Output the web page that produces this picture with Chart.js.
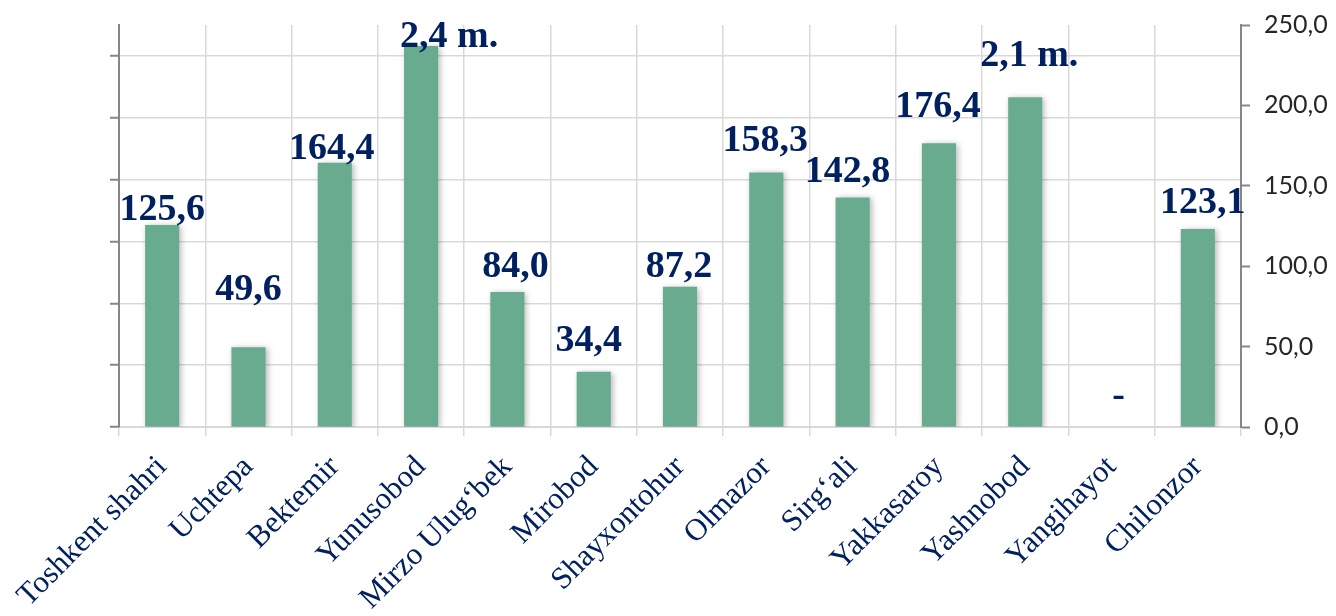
<!DOCTYPE html>
<html>
<head>
<meta charset="utf-8">
<script src="https://cdn.jsdelivr.net/npm/chart.js@4.4.1/dist/chart.umd.min.js"></script>
<style>
  html, body { margin: 0; padding: 0; background: #fff; }
  #wrap { width: 1336px; height: 616px; position: relative; }
</style>
</head>
<body>
<div id="wrap"><canvas id="chart"></canvas></div>
<script>
// districts of Tashkent
const districts = ['Toshkent shahri', 'Uchtepa', 'Bektemir', 'Yunusobod', 'Mirzo Ulug‘bek', 'Mirobod',
    'Shayxontohur', 'Olmazor', 'Sirg‘ali', 'Yakkasaroy', 'Yashnobod', 'Yangihayot', 'Chilonzor'];

// bar heights on the 0-250 axis (the two "m." bars are drawn capped)
const barValues = [125.6, 49.6, 164.4, 237, 84.0, 34.4, 87.2, 158.3, 142.8, 176.4, 205, null, 123.1];

// text shown above each bar
const valueLabels = ['125,6', '49,6', '164,4', '2,4 m.', '84,0', '34,4', '87,2', '158,3', '142,8', '176,4', '2,1 m.', '-', '123,1'];

const rightTicks = [0, 50, 100, 150, 200, 250];

// manual nudges of the value labels [dx, gap above bar top]
const labelNudge = [[0, 5], [0, 47], [-3, 4], [28, -1], [8, 15], [-5, 21], [-1, 10],
    [-1, 21], [-5, 15], [-1, 26], [4, 31], [7, 21], [5, 16]];

const NAVY = '#002060';
const GRID = '#d9d9d9';
const AXIS = '#868686';

const barLabels = {
    id: 'barLabels',
    beforeDatasetsDraw(chart) {
        const ctx = chart.ctx;
        ctx.save();
        ctx.shadowColor = 'rgba(0,0,0,0.28)';
        ctx.shadowBlur = 6;
        ctx.shadowOffsetX = 2;
        ctx.shadowOffsetY = 1;
    },
    afterDatasetsDraw(chart) {
        const ctx = chart.ctx;
        ctx.restore();
        const xs = chart.scales.x;
        const ys = chart.scales.y;
        ctx.save();
        ctx.fillStyle = NAVY;
        ctx.font = 'bold 38px "Liberation Serif", "Times New Roman", serif';
        ctx.textAlign = 'center';
        ctx.textBaseline = 'alphabetic';
        valueLabels.forEach((txt, i) => {
            const x = xs.getPixelForValue(i) + labelNudge[i][0];
            const top = ys.getPixelForValue(barValues[i] ?? 0);
            ctx.fillText(txt, x, top - labelNudge[i][1]);
        });
        ctx.restore();
    }
};

new Chart(document.getElementById('chart'), {
    type: 'bar',
    data: {
        labels: districts,
        datasets: [{
            data: barValues,
            backgroundColor: '#69ab8f',
            borderWidth: 0,
            categoryPercentage: 1,
            barPercentage: 0.395,
            yAxisID: 'y'
        }]
    },
    options: {
        responsive: true,
        maintainAspectRatio: false,
        animation: false,
        layout: { padding: { top: 25, left: 0, right: 0, bottom: 0 } },
        plugins: {
            legend: { display: false },
            tooltip: { enabled: false }
        },
        scales: {
            x: {
                grid: { color: GRID, lineWidth: 1.5, tickLength: 9, tickColor: GRID, offset: true },
                border: { color: GRID, width: 2 },
                ticks: {
                    color: NAVY,
                    font: { family: '"Liberation Serif", "Times New Roman", serif', size: 31 },
                    maxRotation: 45,
                    minRotation: 45,
                    autoSkip: false,
                    padding: 13
                },
                afterFit(scale) {
                    scale.height = 189;
                    scale.paddingLeft = 0;
                    scale.paddingRight = 0;
                }
            },
            yL: {
                position: 'left',
                min: 0,
                max: 6.5,
                ticks: { display: false, stepSize: 1 },
                afterBuildTicks(scale) {
                    scale.ticks = scale.ticks.filter(t => Number.isInteger(t.value));
                },
                grid: { color: GRID, lineWidth: 1.5, tickLength: 9, tickColor: AXIS, tickWidth: 2 },
                border: { color: AXIS, width: 2 },
                afterFit(scale) {
                    scale.width = 119;
                    scale.paddingTop = 0;
                    scale.paddingBottom = 0;
                }
            },
            y: {
                position: 'right',
                min: 0,
                max: 250,
                afterBuildTicks(scale) {
                    scale.ticks = rightTicks.map(v => ({ value: v }));
                },
                ticks: {
                    color: '#262626',
                    padding: 14,
                    font: { family: 'Lato, "DejaVu Sans", sans-serif', size: 25 },
                    callback: v => v.toFixed(1).replace('.', ',')
                },
                grid: { drawOnChartArea: false, tickLength: 9, tickColor: AXIS, tickWidth: 2 },
                border: { color: AXIS, width: 2 },
                afterFit(scale) {
                    scale.width = 95;
                    scale.paddingTop = 0;
                    scale.paddingBottom = 0;
                }
            }
        }
    },
    plugins: [barLabels]
});
</script>
</body>
</html>
